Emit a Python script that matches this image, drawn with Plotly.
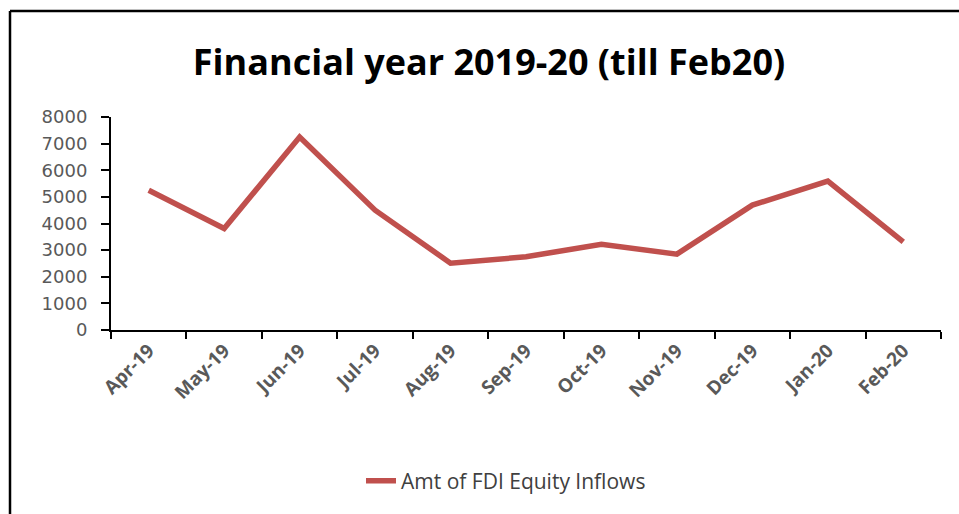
import plotly.graph_objects as go

months = ["Apr-19", "May-19", "Jun-19", "Jul-19", "Aug-19", "Sep-19",
          "Oct-19", "Nov-19", "Dec-19", "Jan-20", "Feb-20"]
fdi_inflows = [5250, 3810, 7250, 4500, 2510, 2750, 3220, 2850, 4690, 5590, 3310]
y_ticks = [0, 1000, 2000, 3000, 4000, 5000, 6000, 7000, 8000]

W, H = 959, 514
L, R, T, B = 111, 18, 117, 184
pw, ph = W - L - R, H - T - B

def px(x):
    return (x - L) / pw

def py(y):
    return (H - B - y) / ph

fig = go.Figure()
fig.add_trace(go.Scatter(
    x=months, y=fdi_inflows, mode="lines",
    name="Amt of FDI Equity Inflows",
    line=dict(color="#C0504D", width=5.5),
))

fig.update_layout(
    width=W, height=H,
    margin=dict(l=L, r=R, t=T, b=B),
    paper_bgcolor="white", plot_bgcolor="white",
    title=dict(text="<b>Financial year 2019-20 (till Feb20)</b>",
               x=px(489), xref="paper", xanchor="center",
               y=1 - 62 / H, yanchor="middle",
               font=dict(family="Open Sans", size=36, color="#000000")),
    showlegend=True,
    legend=dict(orientation="h", x=px(506), xanchor="center",
                y=py(481), yanchor="middle",
                font=dict(family="Open Sans", size=21, color="#404040"),
                bgcolor="rgba(0,0,0,0)"),
    xaxis=dict(type="category", showgrid=False, showline=True,
               linecolor="#000000", linewidth=2,
               ticks="outside", ticklen=7, tickwidth=2, tickcolor="#000000",
               tickson="boundaries", tickangle=-45,
               tickfont=dict(family="Open Sans", size=19, color="#595959", weight=700),
               range=[-0.5, len(months) - 0.5]),
    yaxis=dict(range=[0, 8000], tickvals=y_ticks, showgrid=False,
               showline=True, linecolor="#000000", linewidth=2,
               ticks="outside", ticklen=8, tickwidth=2, tickcolor="#000000",
               ticklabelstandoff=10,
               tickfont=dict(family="DejaVu Sans", size=18, color="#595959"),
               zeroline=False),
    shapes=[
        dict(type="line", xref="paper", yref="paper",
             x0=px(10), x1=px(10), y0=py(11), y1=py(520),
             line=dict(color="#000000", width=2.5)),
        dict(type="line", xref="paper", yref="paper",
             x0=px(10), x1=px(965), y0=py(11), y1=py(11),
             line=dict(color="#000000", width=2.5)),
    ],
)

fig.write_html("out.html")
